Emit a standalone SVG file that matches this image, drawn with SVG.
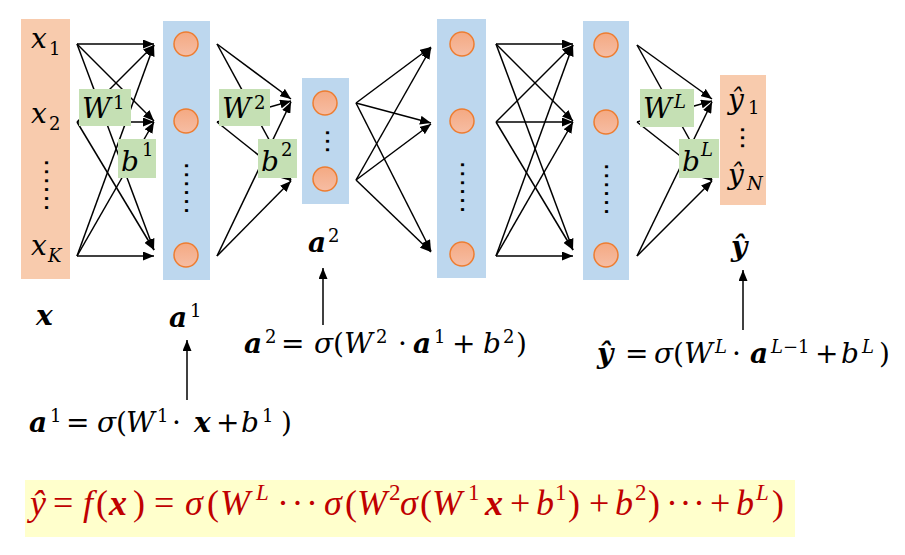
<svg xmlns="http://www.w3.org/2000/svg" width="905" height="555" viewBox="0 0 905 555">
<style>
.m{font-family:"DejaVu Serif","Liberation Serif",serif;font-size:28px;font-style:italic;fill:#000}
.u{font-style:normal}
.bd{font-weight:bold}
.s{font-size:18px;font-style:normal;font-weight:normal}
.si{font-size:18px;font-weight:normal}
.dots{font-family:"Liberation Sans",Arial,sans-serif;font-weight:bold;font-size:20px;fill:#000;letter-spacing:3.4px}
.in{fill:#F8CBAD}
.hid{fill:#BDD7EE}
.wb{fill:#C5E0B4}
.nd{fill:url(#cg);stroke:#ED7D31;stroke-width:1.5}
.cn line{stroke:#000;stroke-width:1.5;marker-end:url(#ah)}
.f{font-family:"Liberation Serif","Times New Roman",serif;font-size:36px;fill:#C00000;font-style:italic}
.fs{font-size:23px}
</style>
<defs>
<marker id="ah" markerUnits="userSpaceOnUse" markerWidth="11" markerHeight="9" refX="11" refY="4.5" orient="auto">
<path d="M0,0 L11,4.5 L0,9 z" fill="#000"/>
</marker>
<linearGradient id="cg" x1="0" y1="0" x2="0" y2="1">
<stop offset="0" stop-color="#F4A982"/>
<stop offset="1" stop-color="#F6BDA4"/>
</linearGradient>
</defs>
<rect width="905" height="555" fill="#fff"/>

<g id="input-layer">
<rect class="in" x="21" y="19" width="49" height="260"/>
<text class="m" x="31" y="48">x<tspan class="s" x="49" y="55">1</tspan></text>
<text class="m" x="31" y="123">x<tspan class="s" x="49" y="130">2</tspan></text>
<text class="dots" transform="translate(45,160) rotate(90)">......</text>
<text class="m" x="31" y="255">x<tspan class="si" x="48" y="262">K</tspan></text>
</g>

<g id="layer-1">
<rect class="hid" x="163" y="21" width="47" height="259"/>
<circle class="nd" cx="186" cy="44" r="12"/>
<circle class="nd" cx="186" cy="121" r="12"/>
<text class="dots" transform="translate(184.5,163) rotate(90)">......</text>
<circle class="nd" cx="186" cy="255" r="12"/>
</g>

<g id="layer-2">
<rect class="hid" x="302" y="78" width="47" height="126"/>
<circle class="nd" cx="325" cy="103" r="12"/>
<text class="dots" transform="translate(325.5,130) rotate(90)" style="letter-spacing:3px">...</text>
<circle class="nd" cx="325" cy="179" r="12"/>
</g>

<g id="layer-3">
<rect class="hid" x="437" y="19" width="49" height="259"/>
<circle class="nd" cx="462" cy="44" r="12"/>
<circle class="nd" cx="462" cy="121" r="12"/>
<text class="dots" transform="translate(460.5,162) rotate(90)">......</text>
<circle class="nd" cx="462" cy="254" r="12"/>
</g>

<g id="layer-4">
<rect class="hid" x="583" y="21" width="46" height="259"/>
<circle class="nd" cx="606" cy="45" r="12"/>
<circle class="nd" cx="606" cy="122" r="12"/>
<text class="dots" transform="translate(604.5,164) rotate(90)">......</text>
<circle class="nd" cx="606" cy="255" r="12"/>
</g>

<g id="output-layer">
<rect class="in" x="720" y="75" width="46" height="130"/>
<text class="m" x="728" y="109">ŷ<tspan class="s" x="748" y="114">1</tspan></text>
<text class="dots" transform="translate(740.5,127) rotate(90)" style="letter-spacing:2.4px">...</text>
<text class="m" x="728" y="184">ŷ<tspan class="si" x="747" y="190">N</tspan></text>
</g>

<g id="connectors" class="cn">
<line x1="77" y1="44" x2="154" y2="44"/>
<line x1="77" y1="44" x2="154" y2="121"/>
<line x1="77" y1="44" x2="154" y2="250"/>
<line x1="77" y1="122" x2="154" y2="45"/>
<line x1="77" y1="122" x2="154" y2="122"/>
<line x1="77" y1="122" x2="154" y2="250"/>
<line x1="77" y1="256" x2="154" y2="45"/>
<line x1="77" y1="256" x2="154" y2="122"/>
<line x1="77" y1="256" x2="154" y2="256"/>

<line x1="217" y1="44" x2="291" y2="99"/>
<line x1="217" y1="44" x2="291" y2="180"/>
<line x1="217" y1="122" x2="291" y2="101"/>
<line x1="217" y1="122" x2="291" y2="181"/>
<line x1="217" y1="256" x2="291" y2="102"/>
<line x1="217" y1="256" x2="291" y2="181"/>

<line x1="356" y1="103" x2="431" y2="47"/>
<line x1="356" y1="103" x2="431" y2="123"/>
<line x1="356" y1="103" x2="431" y2="251"/>
<line x1="356" y1="180" x2="431" y2="48"/>
<line x1="356" y1="180" x2="431" y2="124"/>
<line x1="356" y1="180" x2="431" y2="252"/>

<line x1="496" y1="44" x2="573" y2="44"/>
<line x1="496" y1="44" x2="573" y2="121"/>
<line x1="496" y1="44" x2="573" y2="250"/>
<line x1="496" y1="122" x2="573" y2="45"/>
<line x1="496" y1="122" x2="573" y2="122"/>
<line x1="496" y1="122" x2="573" y2="250"/>
<line x1="496" y1="256" x2="573" y2="45"/>
<line x1="496" y1="256" x2="573" y2="122"/>
<line x1="496" y1="256" x2="573" y2="256"/>

<line x1="637" y1="45" x2="712" y2="99"/>
<line x1="637" y1="45" x2="712" y2="180"/>
<line x1="637" y1="122" x2="712" y2="101"/>
<line x1="637" y1="122" x2="712" y2="181"/>
<line x1="637" y1="256" x2="712" y2="102"/>
<line x1="637" y1="256" x2="712" y2="181"/>

<line x1="187" y1="400" x2="187" y2="340"/>
<line x1="323" y1="325" x2="323" y2="268"/>
<line x1="743" y1="330" x2="743" y2="270"/>
</g>

<g id="w1">
<rect class="wb" x="79" y="89" width="52" height="37"/>
<text class="m" x="82" y="118">W<tspan class="s" x="113" y="109">1</tspan></text>
</g>
<g id="b1">
<rect class="wb" x="118" y="139" width="38" height="39"/>
<text class="m" x="121" y="171">b<tspan class="s" x="142" y="156">1</tspan></text>
</g>
<g id="w2">
<rect class="wb" x="219" y="89" width="51" height="37"/>
<text class="m" x="222" y="118">W<tspan class="s" x="254" y="109">2</tspan></text>
</g>
<g id="b2">
<rect class="wb" x="258" y="139" width="39" height="39"/>
<text class="m" x="261" y="171">b<tspan class="s" x="281" y="156">2</tspan></text>
</g>
<g id="wL">
<rect class="wb" x="640" y="89" width="54" height="38"/>
<text class="m" x="643" y="118">W<tspan class="si" x="674" y="108">L</tspan></text>
</g>
<g id="bL">
<rect class="wb" x="679" y="139" width="40" height="39"/>
<text class="m" x="682" y="171">b<tspan class="si" x="701" y="156">L</tspan></text>
</g>

<g id="labels">
<text class="m bd" x="36" y="325">x</text>
<text class="m bd" x="169" y="327">a<tspan class="s" x="190" y="317">1</tspan></text>
<text class="m bd" x="308" y="252">a<tspan class="s" x="328" y="242">2</tspan></text>
<text class="m bd" x="731" y="256">ŷ</text>
</g>

<g id="eq-a1">
<text class="m" y="432"><tspan class="bd" x="29">a</tspan><tspan class="s" x="50" y="422">1</tspan><tspan class="u" x="66" y="432">=</tspan><tspan x="97">σ</tspan><tspan class="u" x="116">(</tspan><tspan x="126">W</tspan><tspan class="s" x="157" y="422">1</tspan><tspan class="u" x="172" y="432">·</tspan><tspan class="bd" x="194">x</tspan><tspan class="u" x="216">+</tspan><tspan x="241">b</tspan><tspan class="s" x="262" y="422">1</tspan><tspan class="u" x="281" y="432">)</tspan></text>
</g>

<g id="eq-a2">
<text class="m" y="353"><tspan class="bd" x="244">a</tspan><tspan class="s" x="265" y="343">2</tspan><tspan class="u" x="281" y="353">=</tspan><tspan x="314">σ</tspan><tspan class="u" x="333">(</tspan><tspan x="344">W</tspan><tspan class="s" x="376" y="343">2</tspan><tspan class="u" x="398" y="353">·</tspan><tspan class="bd" x="413">a</tspan><tspan class="s" x="434" y="343">1</tspan><tspan class="u" x="452" y="353">+</tspan><tspan x="483">b</tspan><tspan class="s" x="503" y="343">2</tspan><tspan class="u" x="516" y="353">)</tspan></text>
</g>

<g id="eq-y">
<text class="m" y="363"><tspan class="bd" x="597">ŷ</tspan><tspan class="u" x="625">=</tspan><tspan x="654">σ</tspan><tspan class="u" x="673">(</tspan><tspan x="684">W</tspan><tspan class="si" x="715" y="353">L</tspan><tspan class="u" x="732" y="363">·</tspan><tspan class="bd" x="750">a</tspan><tspan class="si" x="771" y="353">L<tspan class="s">−1</tspan></tspan><tspan class="u" x="815" y="363">+</tspan><tspan x="841">b</tspan><tspan class="si" x="862" y="353">L</tspan><tspan class="u" x="879" y="363">)</tspan></text>
</g>

<g id="eq-f">
<rect x="25" y="480" width="770" height="57" fill="#FFFFCC"/>
<text class="f" y="515"><tspan x="30">ŷ</tspan><tspan x="53" font-style="normal">=</tspan><tspan x="83">f</tspan><tspan x="96" font-style="normal">(</tspan><tspan x="109" font-weight="bold">x</tspan><tspan x="133" font-style="normal">)</tspan><tspan x="154" font-style="normal">=</tspan><tspan x="185">σ</tspan><tspan x="207" font-style="normal">(</tspan><tspan x="220">W</tspan><tspan class="fs" x="256" y="500">L</tspan><tspan x="277" y="515" font-style="normal" letter-spacing="2.5">···</tspan><tspan x="324">σ</tspan><tspan x="345" font-style="normal">(</tspan><tspan x="357">W</tspan><tspan class="fs" x="389" y="500" font-style="normal">2</tspan><tspan x="400" y="515">σ</tspan><tspan x="420" font-style="normal">(</tspan><tspan x="432">W</tspan><tspan class="fs" x="468" y="500" font-style="normal">1</tspan><tspan x="485" y="515" font-weight="bold">x</tspan><tspan x="510" font-style="normal">+</tspan><tspan x="536">b</tspan><tspan class="fs" x="555" y="500" font-style="normal">1</tspan><tspan x="568" y="515" font-style="normal">)</tspan><tspan x="589" font-style="normal">+</tspan><tspan x="615">b</tspan><tspan class="fs" x="635" y="500" font-style="normal">2</tspan><tspan x="648" y="515" font-style="normal">)</tspan><tspan x="666" font-style="normal" letter-spacing="1.5">···</tspan><tspan x="710" font-style="normal">+</tspan><tspan x="736">b</tspan><tspan class="fs" x="756" y="500">L</tspan><tspan x="772" y="515" font-style="normal">)</tspan></text>
</g>
</svg>
